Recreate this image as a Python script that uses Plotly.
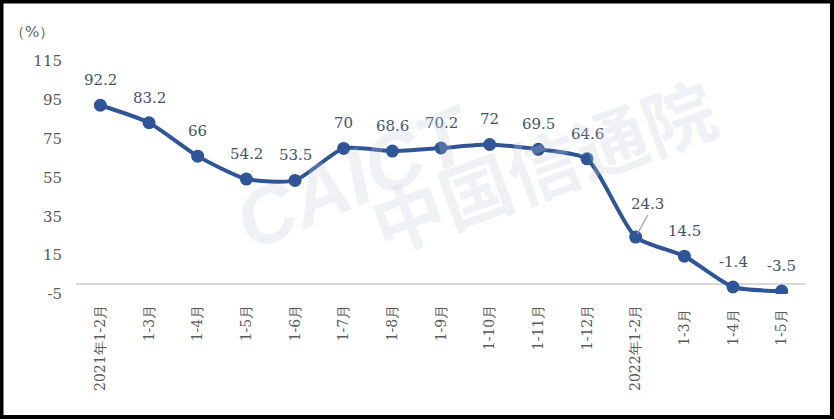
import plotly.graph_objects as go

categories = ["2021年1-2月", "1-3月", "1-4月", "1-5月", "1-6月", "1-7月", "1-8月", "1-9月",
              "1-10月", "1-11月", "1-12月", "2022年1-2月", "1-3月 ", "1-4月 ", "1-5月 "]
values = [92.2, 83.2, 66, 54.2, 53.5, 70, 68.6, 70.2, 72, 69.5, 64.6, 24.3, 14.5, -1.4, -3.5]
labels = ["92.2", "83.2", "66", "54.2", "53.5", "70", "68.6", "70.2", "72", "69.5", "64.6",
          "24.3", "14.5", "-1.4", "-3.5"]
y_ticks = [-5, 15, 35, 55, 75, 95, 115]

W, H = 834, 420
ML, MR, MT, MB = 76, 28, 61, 126
PW, PH = W - ML - MR, H - MT - MB

LINE = "#2F5597"
LABEL = "#44546A"
TICK = "#595959"
SERIF = "DejaVu Serif"

fig = go.Figure()
fig.add_trace(go.Scatter(
    x=list(range(len(categories))), y=values, mode="lines+markers",
    line=dict(color=LINE, width=4, shape="spline", smoothing=0.6),
    marker=dict(color=LINE, size=13),
    hoverinfo="skip", showlegend=False,
))

annotations = []
for i, (v, t) in enumerate(zip(values, labels)):
    if t == "24.3":
        annotations.append(dict(x=i, y=v, xref="x", yref="y", text=t, showarrow=True,
                                ax=12, ay=-22, arrowhead=0, arrowwidth=1.2, arrowcolor="#A5A5A5",
                                standoff=4, yanchor="bottom", xanchor="center",
                                font=dict(family=SERIF, size=15, color=LABEL)))
    else:
        annotations.append(dict(x=i, y=v, xref="x", yref="y", text=t, showarrow=False,
                                yshift=25, font=dict(family=SERIF, size=15, color=LABEL)))

annotations.append(dict(x=-44 / PW, y=1 + 29 / PH, xref="paper", yref="paper", text="（%）",
                        showarrow=False, xanchor="center", yanchor="middle",
                        font=dict(family=SERIF, size=15, color=TICK)))

annotations.append(dict(x=(220 - ML) / PW, y=1 - (270 - MT) / PH, xref="paper", yref="paper",
                        text="<b><i>CAICT</i></b>", showarrow=False, textangle=-23,
                        font=dict(family="Liberation Sans", size=80,
                                  color="rgba(190,198,215,0.25)")))
annotations.append(dict(x=(542 - ML) / PW, y=1 - (163 - MT) / PH, xref="paper", yref="paper",
                        text="<b>中国信通院</b>", showarrow=False, textangle=-20,
                        font=dict(family="Noto Sans CJK SC", size=72,
                                  color="rgba(200,204,214,0.28)")))

fig.update_layout(
    width=W, height=H,
    margin=dict(l=ML, r=MR, t=MT, b=MB, pad=0),
    paper_bgcolor="white", plot_bgcolor="rgba(0,0,0,0)",
    font=dict(family=SERIF),
    annotations=annotations,
    xaxis=dict(
        range=[-0.5, len(categories) - 0.5],
        tickmode="array", tickvals=list(range(len(categories))), ticktext=categories,
        tickangle=-90, showgrid=False, zeroline=False, showline=False, ticks="",
        tickfont=dict(family=SERIF, size=14, color=TICK), ticklabelstandoff=7,
        fixedrange=True,
    ),
    yaxis=dict(
        range=[-5, 115], tickmode="array", tickvals=y_ticks, ticktext=[str(t) for t in y_ticks],
        showgrid=False, zeroline=True, zerolinecolor="#D9D9D9", zerolinewidth=1.5,
        showline=False, ticks="", tickfont=dict(family=SERIF, size=15, color=TICK),
        ticklabelstandoff=13, fixedrange=True,
    ),
    shapes=[dict(type="rect", xref="paper", yref="paper",
                 x0=-(ML - 1.5) / PW, x1=1 + (MR - 2) / PW,
                 y0=-(MB - 3) / PH, y1=1 + (MT - 1.5) / PH,
                 line=dict(color="black", width=4), layer="above")],
)

fig.write_html("out.html", config={"displayModeBar": False},
               post_script="document.body.style.margin='0';document.body.style.overflow='hidden';")
